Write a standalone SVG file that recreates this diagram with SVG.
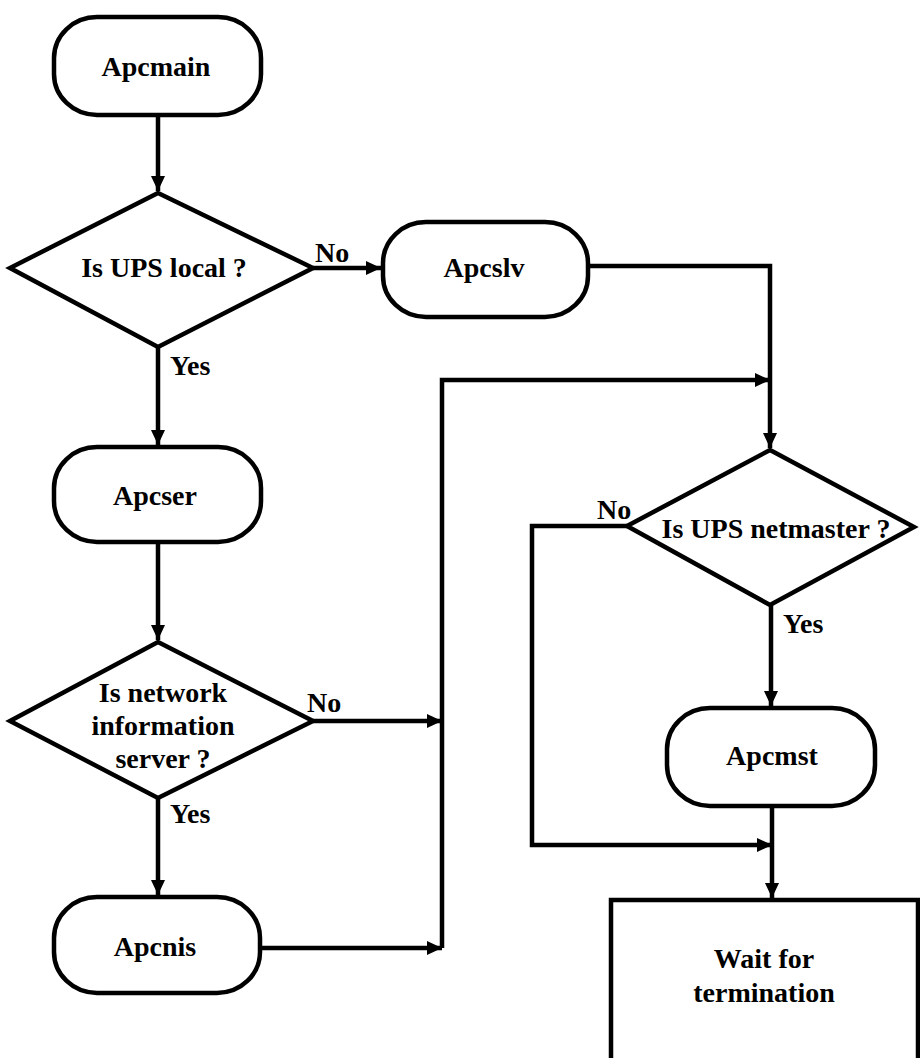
<svg xmlns="http://www.w3.org/2000/svg" width="920" height="1058" viewBox="0 0 920 1058">
<style>
.shape{fill:#fff;stroke:#000;stroke-width:4.5}
.conn{fill:none;stroke:#000;stroke-width:4.5}
text{font-family:"Liberation Serif","Times New Roman",serif;font-weight:bold;font-size:28px;fill:#000}
.c{text-anchor:middle}
</style>
<defs>
<marker id="arr" markerUnits="userSpaceOnUse" markerWidth="16" markerHeight="14" refX="15" refY="7" orient="auto">
<path d="M0,0 L15,7 L0,14 z" fill="#000"/>
</marker>
</defs>
<rect width="920" height="1058" fill="#fff"/>
<g id="connectors">
<path class="conn" d="M158,115 V191" marker-end="url(#arr)"/>
<path class="conn" d="M313,268 H381" marker-end="url(#arr)"/>
<path class="conn" d="M158,347 V445" marker-end="url(#arr)"/>
<path class="conn" d="M158,542 V640" marker-end="url(#arr)"/>
<path class="conn" d="M158,798 V895" marker-end="url(#arr)"/>
<path class="conn" d="M588,266 H770 V448" marker-end="url(#arr)"/>
<path class="conn" d="M442,948 V380 H770" marker-end="url(#arr)"/>
<path class="conn" d="M313,721 H442" marker-end="url(#arr)"/>
<path class="conn" d="M260,948 H442" marker-end="url(#arr)"/>
<path class="conn" d="M627,526 H532 V845 H772" marker-end="url(#arr)"/>
<path class="conn" d="M771,605 V706" marker-end="url(#arr)"/>
<path class="conn" d="M772,806 V898" marker-end="url(#arr)"/>
<text x="315" y="262">No</text>
<text x="170" y="375">Yes</text>
<text x="307" y="712">No</text>
<text x="170" y="823">Yes</text>
<text x="597" y="519">No</text>
<text x="783" y="633">Yes</text>
</g>
<g id="apcmain">
<rect class="shape" x="54" y="17" width="207" height="98" rx="43" ry="41"/>
<text class="c" x="156" y="76">Apcmain</text>
</g>
<g id="is-ups-local">
<polygon class="shape" points="158,193 313,268 158,347 10,268"/>
<text class="c" x="164" y="277">Is UPS local ?</text>
</g>
<g id="apcslv">
<rect class="shape" x="383" y="222" width="205" height="95" rx="43" ry="41"/>
<text class="c" x="484" y="277">Apcslv</text>
</g>
<g id="apcser">
<rect class="shape" x="54" y="447" width="207" height="95" rx="43" ry="41"/>
<text class="c" x="155" y="505">Apcser</text>
</g>
<g id="is-network-information-server">
<polygon class="shape" points="158,642 313,721 158,798 10,721"/>
<text class="c" x="163" y="702">Is network</text>
<text class="c" x="163" y="735">information</text>
<text class="c" x="163" y="768">server ?</text>
</g>
<g id="apcnis">
<rect class="shape" x="54" y="897" width="206" height="96" rx="43" ry="41"/>
<text class="c" x="155" y="956">Apcnis</text>
</g>
<g id="is-ups-netmaster">
<polygon class="shape" points="770,450 914,527 770,605 627,526"/>
<text class="c" x="776" y="538">Is UPS netmaster ?</text>
</g>
<g id="apcmst">
<rect class="shape" x="667" y="708" width="208" height="98" rx="43" ry="41"/>
<text class="c" x="772" y="765">Apcmst</text>
</g>
<g id="wait-for-termination">
<rect class="shape" x="611" y="900" width="307" height="170"/>
<text class="c" x="764" y="968">Wait for</text>
<text class="c" x="764" y="1002">termination</text>
</g>
</svg>
